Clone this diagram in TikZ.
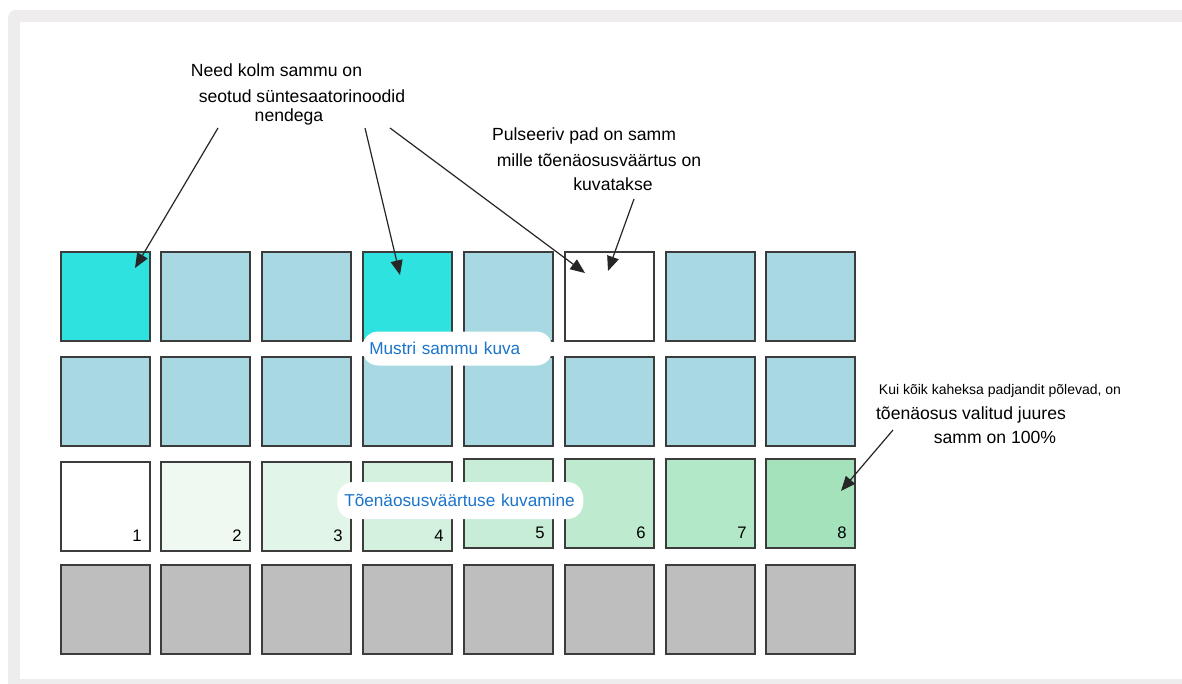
\documentclass[tikz,border=0pt]{standalone}
\usepackage{fontspec}
\setmainfont{Liberation Sans}
\usetikzlibrary{arrows.meta}
\definecolor{framegrey}{HTML}{EEECEC}
\definecolor{padcyan}{HTML}{2EE2E0}
\definecolor{padblue}{HTML}{A8D9E3}
\definecolor{padgrey}{HTML}{BEBEBE}
\definecolor{padedge}{HTML}{3C3C3C}
\definecolor{g1}{HTML}{FFFFFF}
\definecolor{g2}{HTML}{EFF9F2}
\definecolor{g3}{HTML}{E1F5E8}
\definecolor{g4}{HTML}{D4F0DF}
\definecolor{g5}{HTML}{C8EDD7}
\definecolor{g6}{HTML}{BEEACF}
\definecolor{g7}{HTML}{B2E7C8}
\definecolor{g8}{HTML}{A3E2BA}
\definecolor{labelblue}{HTML}{1A74CC}
\tikzset{
  pad/.style={draw=padedge, line width=0.9pt, minimum width=66.75pt, minimum height=66.75pt, inner sep=0pt},
  callout/.style={font=\fontsize{13.2pt}{15pt}\selectfont, text=black, inner sep=0pt, anchor=base},
  smallcallout/.style={font=\fontsize{10.5pt}{12pt}\selectfont, text=black, inner sep=0pt, anchor=base},
  num/.style={font=\fontsize{12.5pt}{14pt}\selectfont, text=black, inner sep=0pt, anchor=base east},
  labelbox/.style={fill=white, rounded corners=12pt, text=labelblue, font=\fontsize{12.9pt}{15pt}\selectfont, inner ysep=0pt, align=left},
  pointer/.style={line width=0.9pt, draw=black!85, -{Triangle[length=11pt,width=9pt]}}
}
\begin{document}
\begin{tikzpicture}[x=0.75pt,y=-0.75pt]
\useasboundingbox (0,0) rectangle (1182,683);
% frame
\fill[framegrey, rounded corners=6pt] (8,10) rectangle (1200,695);
\fill[white] (20,22) rectangle (1182,679);
% pads
\foreach \c/\x in {1/105.5,2/205.5,3/306.5,4/407.5,5/508.5,6/609.5,7/710.5,8/810.5}{
  \node[pad, fill=padblue] (p2\c) at (\x,401.5) {};
  \node[pad, fill=padgrey] (p4\c) at (\x,609.5) {};
}
\node[pad, fill=padcyan] (p11) at (105.5,296.5) {};
\node[pad, fill=padblue] (p12) at (205.5,296.5) {};
\node[pad, fill=padblue] (p13) at (306.5,296.5) {};
\node[pad, fill=padcyan] (p14) at (407.5,296.5) {};
\node[pad, fill=padblue] (p15) at (508.5,296.5) {};
\node[pad, fill=white]   (p16) at (609.5,296.5) {};
\node[pad, fill=padblue] (p17) at (710.5,296.5) {};
\node[pad, fill=padblue] (p18) at (810.5,296.5) {};
\node[pad, fill=g1] (p31) at (105.5,506.5) {};
\node[pad, fill=g2] (p32) at (205.5,506.5) {};
\node[pad, fill=g3] (p33) at (306.5,506.5) {};
\node[pad, fill=g4] (p34) at (407.5,506.5) {};
\node[pad, fill=g5] (p35) at (508.5,503.5) {};
\node[pad, fill=g6] (p36) at (609.5,503.5) {};
\node[pad, fill=g7] (p37) at (710.5,503.5) {};
\node[pad, fill=g8] (p38) at (810.5,503.5) {};
\foreach \c in {1,...,8}{
  \node[num] (n\c) at ([xshift=-6.5pt,yshift=7.5pt]p3\c.south east) {\c};
}
% labels
\node[labelbox, inner xsep=5.25pt, text width=132pt, minimum height=25.5pt, anchor=west] (lab1) at (362,348.5) {Mustri sammu kuva};
\node[labelbox, inner xsep=5.25pt, text width=174pt, minimum height=27.75pt, anchor=west] (lab2) at (337,500.5) {Tõenäosusväärtuse kuvamine};
% callout texts
\node[callout] (t1a) at (276.5,76) {Need kolm sammu on};
\node[callout] (t1b) at (302,102) {seotud süntesaatorinoodid};
\node[callout] (t1c) at (289,121) {nendega};
\node[callout] (t2a) at (584,140) {Pulseeriv pad on samm};
\node[callout] (t2b) at (599,166) {mille tõenäosusväärtus on};
\node[callout] (t2c) at (613,190) {kuvatakse};
\node[smallcallout] (t3a) at (1000,394) {Kui kõik kaheksa padjandit põlevad, on};
\node[callout] (t3b) at (971,419) {tõenäosus valitud juures};
\node[callout] (t3c) at (995,443) {samm on 100\%};
% connector ends
\coordinate (s1) at (218,128);
\coordinate (s2) at (365,128);
\coordinate (s3) at (390,128);
\coordinate (s4) at (634,199);
\coordinate (s5) at (893,430);
\coordinate (e1) at (135,268);
\coordinate (e2) at (400,275);
\coordinate (e3) at (585,273);
\coordinate (e4) at (608,271);
\coordinate (e5) at (841,491);
\draw[pointer] (s1) -- (e1);
\draw[pointer] (s2) -- (e2);
\draw[pointer] (s3) -- (e3);
\draw[pointer] (s4) -- (e4);
\draw[pointer] (s5) -- (e5);
\end{tikzpicture}
\end{document}
